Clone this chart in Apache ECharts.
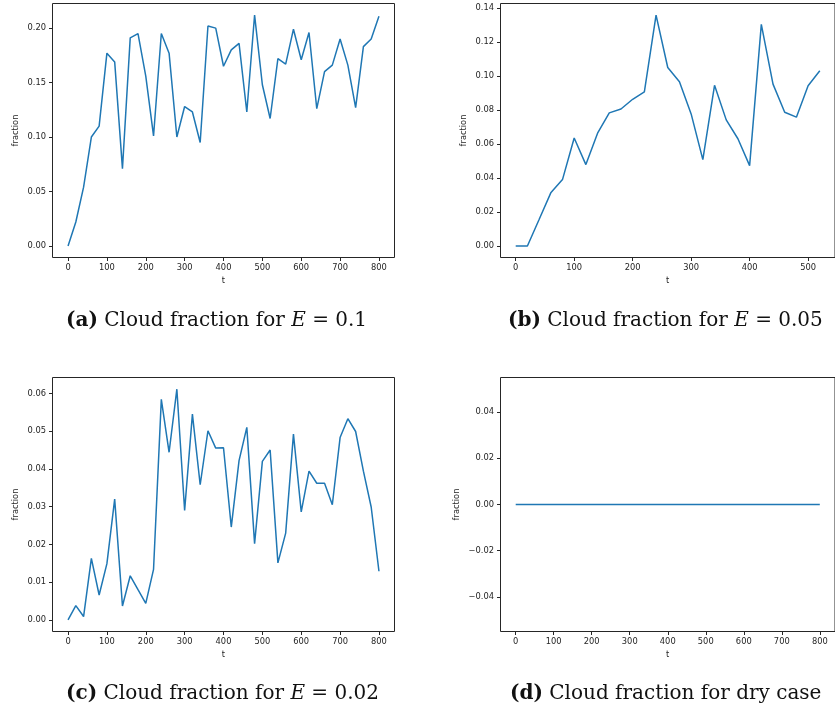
<!DOCTYPE html>
<html>
<head>
<meta charset="utf-8">
<title>Cloud fraction</title>
<script src="https://cdn.jsdelivr.net/npm/echarts@6/dist/echarts.min.js"></script>
<style>
  html, body { margin: 0; padding: 0; background: #fff; }
  #chart { width: 835px; height: 711px; }
</style>
</head>
<body>
<div id="chart"></div>
<script>
// Time samples (t) for each run
const tLong = [0, 20, 40, 60, 80, 100, 120, 140, 160, 180, 200, 220, 240, 260, 280, 300, 320, 340, 360, 380,
  400, 420, 440, 460, 480, 500, 520, 540, 560, 580, 600, 620, 640, 660, 680, 700, 720, 740, 760, 780, 800];
const tShort = [0, 20, 40, 60, 80, 100, 120, 140, 160, 180, 200, 220, 240, 260, 280, 300, 320, 340, 360, 380,
  400, 420, 440, 460, 480, 500, 520];

// Cloud fraction, E = 0.1
const fracE010 = [0, 0.022, 0.054, 0.100, 0.110, 0.177, 0.169, 0.071, 0.191, 0.195, 0.156, 0.101, 0.195, 0.177,
  0.100, 0.128, 0.123, 0.095, 0.202, 0.200, 0.165, 0.180, 0.186, 0.123, 0.212, 0.148, 0.117, 0.172, 0.167,
  0.199, 0.171, 0.196, 0.126, 0.160, 0.166, 0.190, 0.166, 0.127, 0.183, 0.190, 0.211];
// Cloud fraction, E = 0.05
const fracE005 = [0, 0, 0.0155, 0.0312, 0.039, 0.0634, 0.0478, 0.0663, 0.0782, 0.0805, 0.0862, 0.0905, 0.1357,
  0.1049, 0.0965, 0.0776, 0.0507, 0.0944, 0.0741, 0.063, 0.0472, 0.1302, 0.0951, 0.0786, 0.0757, 0.0942, 0.103];
// Cloud fraction, E = 0.02
const fracE002 = [0, 0.0038, 0.0009, 0.0163, 0.0066, 0.0149, 0.032, 0.0037, 0.0117, 0.008, 0.0044, 0.0134,
  0.0584, 0.0444, 0.0611, 0.029, 0.0545, 0.0358, 0.0501, 0.0455, 0.0456, 0.0246, 0.0422, 0.051, 0.0202, 0.042,
  0.045, 0.0151, 0.023, 0.0492, 0.0286, 0.0394, 0.0362, 0.0362, 0.0305, 0.0483, 0.0533, 0.0499, 0.0394, 0.0299,
  0.0129];
// Cloud fraction, dry case
const fracDry = [0, 0, 0, 0, 0, 0, 0, 0, 0, 0, 0, 0, 0, 0, 0, 0, 0, 0, 0, 0, 0,
  0, 0, 0, 0, 0, 0, 0, 0, 0, 0, 0, 0, 0, 0, 0, 0, 0, 0, 0, 0];

// Tick positions
const xTicksLong = [0, 100, 200, 300, 400, 500, 600, 700, 800];
const xTicksShort = [0, 100, 200, 300, 400, 500];
const yTicksA = [0, 0.05, 0.10, 0.15, 0.20];
const yTicksB = [0, 0.02, 0.04, 0.06, 0.08, 0.10, 0.12, 0.14];
const yTicksC = [0, 0.01, 0.02, 0.03, 0.04, 0.05, 0.06];
const yTicksD = [-0.04, -0.02, 0, 0.02, 0.04];

// Panel captions
const captions = [
  '{b|(a)} Cloud fraction for {i|E} = 0.1',
  '{b|(b)} Cloud fraction for {i|E} = 0.05',
  '{b|(c)} Cloud fraction for {i|E} = 0.02',
  '{b|(d)} Cloud fraction for dry case'
];

const LINE = '#1f77b4';
const INK = '#262626';
const SANS = 'DejaVu Sans';
const SERIF = 'DejaVu Serif';

// Two-decimal tick labels with a typographic minus sign
const fmt = v => {
  const s = Math.abs(v) < 1e-12 ? '0.00' : v.toFixed(2);
  return s.replace('-', '\u2212');
};

function pair(xMin, xMax, xTicks, yMin, yMax, yTicks, grid, yNameGap) {
  const x = {
    type: 'value', gridIndex: grid, min: xMin, max: xMax,
    name: 't', nameLocation: 'middle', nameGap: 19,
    nameTextStyle: { fontFamily: SANS, fontSize: 8.3, color: INK },
    axisLine: { show: false, onZero: false },
    axisTick: { show: true, length: 3.5, customValues: xTicks, lineStyle: { color: INK, width: 1 } },
    axisLabel: { customValues: xTicks, margin: 6.5, fontFamily: SANS, fontSize: 8.3, color: INK,
      formatter: v => String(Math.round(v)) },
    splitLine: { show: false }
  };
  const y = {
    type: 'value', gridIndex: grid, min: yMin, max: yMax,
    name: 'fraction', nameLocation: 'middle', nameGap: yNameGap,
    nameTextStyle: { fontFamily: SANS, fontSize: 8.3, color: INK },
    axisLine: { show: false, onZero: false },
    axisTick: { show: true, length: 3.5, customValues: yTicks, lineStyle: { color: INK, width: 1 } },
    axisLabel: { customValues: yTicks, margin: 6.5, fontFamily: SANS, fontSize: 8.3, color: INK, formatter: fmt },
    splitLine: { show: false }
  };
  return [x, y];
}

const axA = pair(-40, 840, xTicksLong, -0.0106, 0.2226, yTicksA, 0, 33);
const axB = pair(-26, 546, xTicksShort, -0.0068, 0.1425, yTicksB, 1, 33);
const axC = pair(-40, 840, xTicksLong, -0.00306, 0.0642, yTicksC, 2, 33);
const axD = pair(-40, 840, xTicksLong, -0.055, 0.055, yTicksD, 3, 40);

const gridStyle = { show: true, borderColor: INK, borderWidth: 1, backgroundColor: 'transparent', containLabel: false };

function zip(ts, vs) { return ts.map((t, i) => [t, vs[i]]); }

function lineSeries(idx, ts, vs) {
  return {
    type: 'line', xAxisIndex: idx, yAxisIndex: idx, data: zip(ts, vs),
    showSymbol: false, symbol: 'none', silent: true, animation: false,
    lineStyle: { color: LINE, width: 1.5 }
  };
}

const CAP = 20;
const richCaption = {
  fontFamily: SERIF, fontSize: CAP, lineHeight: 22, color: '#111', fontWeight: 'normal',
  rich: {
    b: { fontFamily: SERIF, fontSize: CAP, lineHeight: 22, fontWeight: 'bold', color: '#111' },
    i: { fontFamily: SERIF, fontSize: CAP, lineHeight: 22, fontStyle: 'italic', color: '#111' }
  }
};

const chart = echarts.init(document.getElementById('chart'), null, { renderer: 'canvas' });
chart.setOption({
  animation: false,
  backgroundColor: '#fff',
  grid: [
    Object.assign({ left: 52.5, top: 3.5, width: 342, height: 254 }, gridStyle),
    Object.assign({ left: 500.5, top: 3.5, width: 342, height: 254 }, gridStyle),
    Object.assign({ left: 52.5, top: 377.5, width: 342, height: 254 }, gridStyle),
    Object.assign({ left: 500.5, top: 377.5, width: 342, height: 254 }, gridStyle)
  ],
  xAxis: [axA[0], axB[0], axC[0], axD[0]],
  yAxis: [axA[1], axB[1], axC[1], axD[1]],
  series: [
    lineSeries(0, tLong, fracE010),
    lineSeries(1, tShort, fracE005),
    lineSeries(2, tLong, fracE002),
    lineSeries(3, tLong, fracDry)
  ],
  title: [
    { text: captions[0], left: 66, top: 310, padding: 0, textStyle: richCaption },
    { text: captions[1], left: 508, top: 310, padding: 0, textStyle: richCaption },
    { text: captions[2], left: 66, top: 683, padding: 0, textStyle: richCaption },
    { text: captions[3], left: 510, top: 683, padding: 0, textStyle: richCaption }
  ]
});
</script>
</body>
</html>
